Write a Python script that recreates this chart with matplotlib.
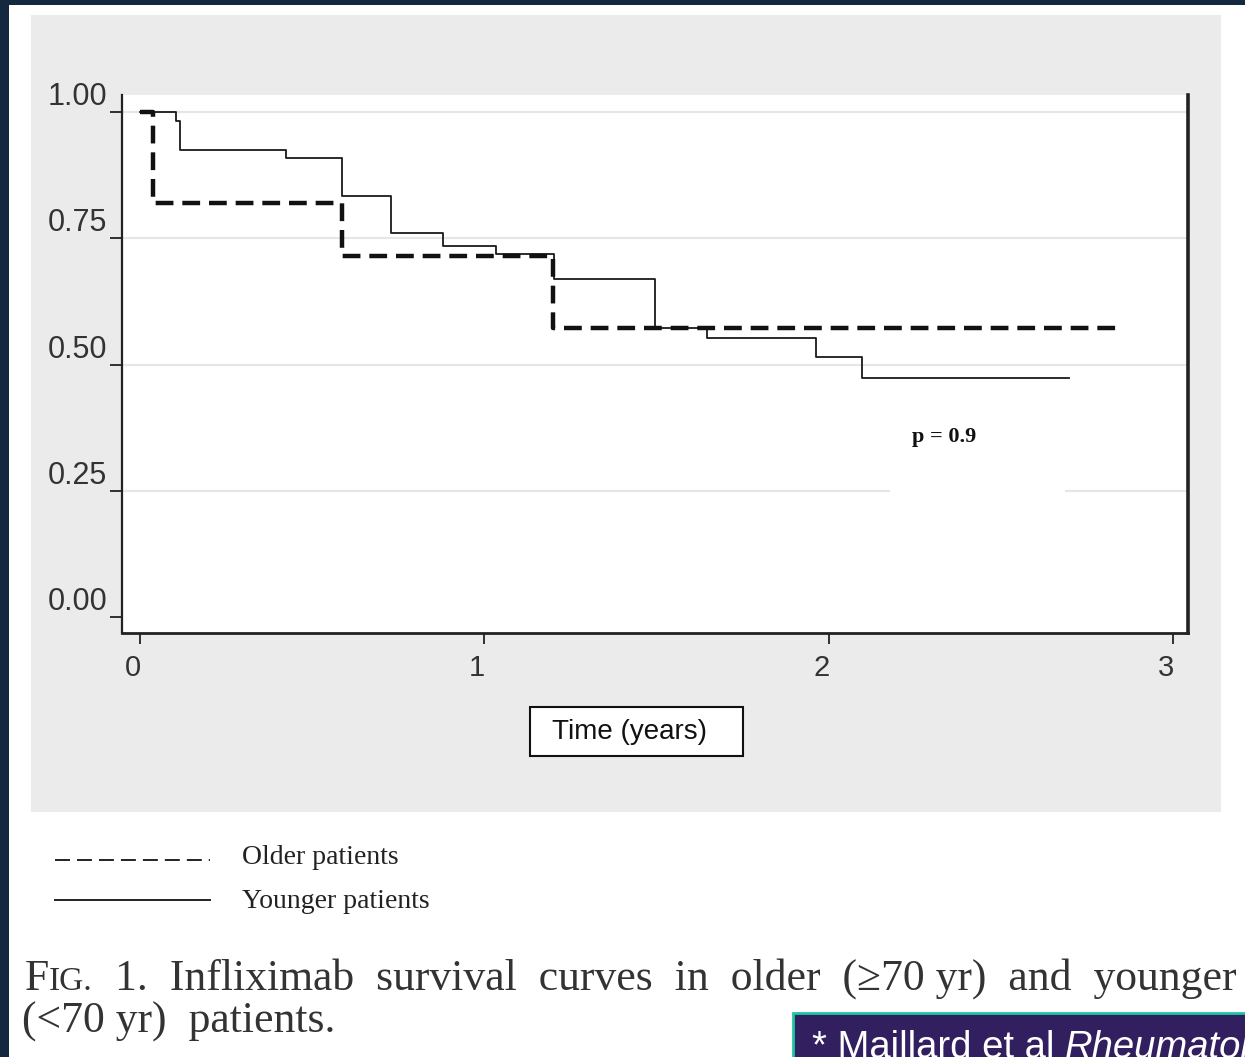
import matplotlib
matplotlib.use('Agg')
import matplotlib.pyplot as plt
import matplotlib.transforms as mtransforms
from matplotlib.patches import Rectangle
from matplotlib.lines import Line2D
from matplotlib.text import Annotation

# Kaplan-Meier steps (time in years, survival fraction)
older_t = [0.0, 0.038, 0.587, 1.200, 2.835]
older_s = [1.0, 0.820, 0.715, 0.572, 0.572]

younger_t = [0.0, 0.105, 0.116, 0.423, 0.586, 0.729, 0.881, 1.033,
             1.202, 1.496, 1.647, 1.963, 2.097, 2.698]
younger_s = [1.0, 0.983, 0.925, 0.908, 0.834, 0.760, 0.735, 0.719,
             0.669, 0.572, 0.553, 0.515, 0.474, 0.474]

x_ticks = [0, 1, 2, 3]
x_labels = ['0', '1', '2', '3']
y_ticks = [0.0, 0.25, 0.50, 0.75, 1.00]
y_labels = ['0.00', '0.25', '0.50', '0.75', '1.00']
grid_levels = [0.25, 0.50, 0.75, 1.00]

series_names = ['Older patients', 'Younger patients']
p_text = 'p = 0.9'
x_title = 'Time (years)'
caption_1 = '  1.  Infliximab  survival  curves  in  older  (\u226570 yr)  and  younger'
caption_2 = '(<70 yr)  patients.'
citation = '* Maillard et al '
citation_it = 'Rheumatology'

W, H = 1245, 1057
SERIF = ['Liberation Serif', 'DejaVu Serif']
SANS = ['Liberation Sans', 'DejaVu Sans']


def fx(px):
    return px / W


def fy(py):
    return 1 - py / H


fig = plt.figure(figsize=(W / 100, H / 100), dpi=100)
fig.patch.set_facecolor('white')


def fig_rect(x0, y0, x1, y1, **kw):
    fig.add_artist(Rectangle((fx(x0), fy(y1)), fx(x1) - fx(x0), fy(y0) - fy(y1),
                             transform=fig.transFigure, **kw))


def text_after(prev, s, y_px, **kw):
    # put a text right after another one, on the same baseline
    a = Annotation(s, xy=(1, fy(y_px)), xycoords=(prev, 'figure fraction'),
                   va='baseline', annotation_clip=False, **kw)
    fig.add_artist(a)
    return a


# slide frame + gray graph panel
fig_rect(0, 0, 9, H, fc='#142940', ec='none', zorder=-10)
fig_rect(0, 0, W, 5, fc='#142940', ec='none', zorder=-10)
fig_rect(31, 15, 1221, 812, fc='#ebebeb', ec='none', zorder=-9)

ax = fig.add_axes([fx(122), fy(633), fx(1188) - fx(122), fy(95) - fy(633)])
ax.set_facecolor('white')
ax.set_xlim(-0.0523, 3.044)
ax.set_ylim(-0.0317, 1.0337)

for lv in grid_levels:
    ax.axhline(lv, color='#e6e6e6', lw=1.5, zorder=1)

# white box behind the p value
ax.add_patch(Rectangle((2.178, 0.232), 0.509, 0.158, fc='white', ec='none', zorder=1.5))

ax.step(younger_t, younger_s, where='post', color='#1a1a1a', lw=1.3, zorder=3)
ax.step(older_t, older_s, where='post', color='#111111', lw=3.2,
        ls=(0, (4.0, 2.0)), zorder=4)

ax.text(2.335, 0.356, p_text, family=SERIF, weight='bold', fontsize=16,
        ha='center', va='center', color='#111')

ax.spines['top'].set_visible(False)
ax.spines['left'].set_linewidth(1.6)
ax.spines['bottom'].set_linewidth(2.0)
ax.spines['right'].set_linewidth(2.6)
for s in ['left', 'bottom', 'right']:
    ax.spines[s].set_color('#222222')

ax.set_yticks(y_ticks, labels=y_labels, va='bottom')
ax.set_xticks(x_ticks, labels=x_labels)
ax.tick_params(axis='y', length=8.6, width=1.3, pad=2, labelsize=22,
               labelcolor='#333333', color='#222222')
ax.tick_params(axis='x', length=8, width=1.3, pad=7, labelsize=21,
               labelcolor='#333333', color='#222222')
for lab in ax.get_yticklabels():
    lab.set_fontfamily(SANS)
for lab in ax.get_xticklabels():
    lab.set_fontfamily(SANS)
    lab.set_transform(lab.get_transform() +
                      mtransforms.ScaledTranslation(-7 / 100, 0, fig.dpi_scale_trans))

# x-axis title in a box
fig_rect(530, 707, 743, 756, fc='white', ec='#111111', lw=1.5, zorder=2)
fig.text(fx(629), fy(732), x_title, family=SANS, fontsize=20,
         ha='center', va='center', color='#111', zorder=3)

# legend below the panel
fig.add_artist(Line2D([fx(55), fx(210)], [fy(860), fy(860)], transform=fig.transFigure,
                      color='#222', lw=1.4, ls=(0, (7.7, 3.6))))
fig.add_artist(Line2D([fx(55), fx(210)], [fy(900), fy(900)], transform=fig.transFigure,
                      color='#222', lw=1.4))
fig.text(fx(242), fy(858), series_names[0], family=SERIF, fontsize=20,
         va='center', color='#222')
fig.text(fx(242), fy(901), series_names[1], family=SERIF, fontsize=20,
         va='center', color='#222')

# caption with small caps "FIG."
c_f = fig.text(fx(25), fy(990), 'F', family=SERIF, fontsize=31.5, va='baseline', color='#333')
c_ig = text_after(c_f, 'IG.', 990, family=SERIF, fontsize=24, color='#333')
text_after(c_ig, caption_1, 990, family=SERIF, fontsize=31.5, color='#333')
fig.text(fx(22), fy(1033), caption_2, family=SERIF, fontsize=31.5,
         va='baseline', color='#333')

# citation box
fig_rect(793, 1013, 1260, 1070, fc='#321f5f', ec='#20c4a2', lw=2, zorder=5)
c1 = fig.text(fx(812), fy(1058), citation, family=SANS, fontsize=27.5,
              va='baseline', color='white', zorder=6)
text_after(c1, citation_it, 1058, family=SANS, style='italic', fontsize=27.5,
           color='white', zorder=6)

fig.savefig('out.png', dpi=100)
